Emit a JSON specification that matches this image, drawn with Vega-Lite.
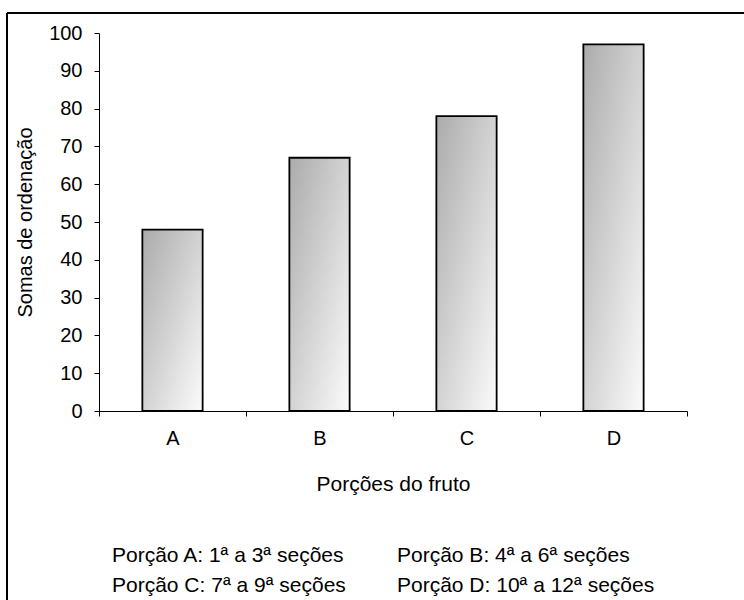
{
  "$schema": "https://vega.github.io/schema/vega-lite/v6.json",
  "width": 737,
  "height": 587,
  "autosize": {"type": "none"},
  "padding": {"left": 7, "top": 13, "right": 0, "bottom": 0},
  "background": "white",
  "config": {
    "view": {"stroke": null},
    "font": "Liberation Sans",
    "axis": {
      "domainColor": "black",
      "domainWidth": 1,
      "tickColor": "black",
      "tickWidth": 1,
      "tickSize": 5,
      "labelColor": "black",
      "titleColor": "black",
      "labelFont": "Liberation Sans",
      "titleFont": "Liberation Sans",
      "labelFontSize": 20,
      "titleFontSize": 21,
      "titleFontWeight": "normal",
      "grid": false
    }
  },
  "layer": [
    {
      "data": {"values": [
        {"porcao": "A", "soma": 48},
        {"porcao": "B", "soma": 67},
        {"porcao": "C", "soma": 78},
        {"porcao": "D", "soma": 97}
      ]},
      "mark": {
        "type": "bar",
        "width": {"band": 0.41},
        "stroke": "black",
        "strokeWidth": 1.8,
        "fill": {
          "gradient": "linear",
          "x1": 0, "y1": 0, "x2": 1, "y2": 1,
          "stops": [
            {"offset": 0, "color": "#ababab"},
            {"offset": 1, "color": "#fbfbfb"}
          ]
        }
      },
      "encoding": {
        "x": {
          "field": "porcao",
          "type": "nominal",
          "scale": {"range": [92, 680], "paddingInner": 0, "paddingOuter": 0},
          "axis": {
            "title": "Porções do fruto",
            "orient": "bottom",
            "offset": -189,
            "labelAngle": 0,
            "tickBand": "extent",
            "labelPadding": 12,
            "titlePadding": 25
          }
        },
        "y": {
          "field": "soma",
          "type": "quantitative",
          "scale": {"domain": [0, 100], "range": [398, 20], "nice": false, "zero": true},
          "axis": {
            "title": "Somas de ordenação",
            "orient": "left",
            "offset": -92,
            "values": [0, 10, 20, 30, 40, 50, 60, 70, 80, 90, 100],
            "labelPadding": 12,
            "titlePadding": 13,
            "titleFontSize": 20
          }
        }
      }
    },
    {
      "data": {"values": [{}]},
      "mark": {"type": "rule", "color": "black", "strokeWidth": 2},
      "encoding": {
        "x": {"datum": 0, "type": "quantitative", "scale": {"domain": [0, 1]}, "axis": null}
      }
    },
    {
      "data": {"values": [{}]},
      "mark": {"type": "rule", "color": "black", "strokeWidth": 2},
      "encoding": {
        "y": {"datum": 1, "type": "quantitative", "scale": {"domain": [0, 1]}, "axis": null}
      }
    },
    {
      "data": {"values": [
        {"texto": "Porção A: 1ª a 3ª seções", "coluna": "esq", "linha": 1},
        {"texto": "Porção B: 4ª a 6ª seções", "coluna": "dir", "linha": 1},
        {"texto": "Porção C: 7ª a 9ª seções", "coluna": "esq", "linha": 2},
        {"texto": "Porção D: 10ª a 12ª seções", "coluna": "dir", "linha": 2}
      ]},
      "mark": {"type": "text", "align": "left", "baseline": "middle", "fontSize": 21, "font": "Liberation Sans", "color": "black"},
      "encoding": {
        "x": {"field": "coluna", "type": "nominal", "scale": {"type": "point", "domain": ["esq", "dir"], "range": [105, 390], "padding": 0}, "axis": null},
        "y": {"field": "linha", "type": "ordinal", "scale": {"type": "point", "domain": [1, 2], "range": [543, 573], "padding": 0}, "axis": null},
        "text": {"field": "texto"}
      }
    }
  ],
  "resolve": {"scale": {"x": "independent", "y": "independent"}}
}
